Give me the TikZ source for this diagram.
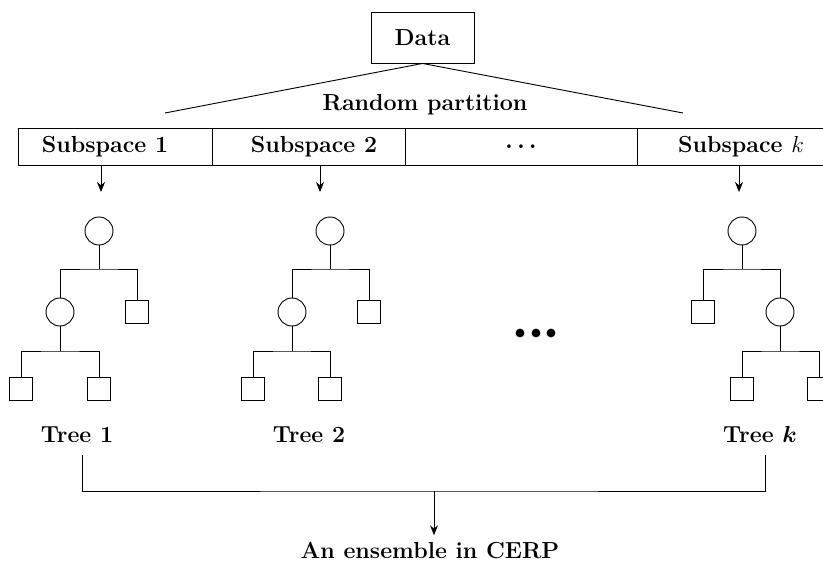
\RequirePackage{fix-cm}
\documentclass[tikz,border=0pt]{standalone}
\usepackage{tikz}
\usetikzlibrary{arrows.meta}

\begin{document}
\begin{tikzpicture}
[x=0.25mm,y=-0.25mm
,font=\fontsize{16.5}{19}\selectfont\bfseries
,line width=0.65pt
,lbl/.style={inner sep=0pt,anchor=base}
,cell/.style={draw,minimum height=9.25mm,inner sep=0pt}
,split/.style={circle,draw,minimum size=7mm,inner sep=0pt}
,leaf/.style={draw,minimum size=5.6mm,inner sep=0pt}
,blob/.style={circle,fill,minimum size=2.2mm,inner sep=0pt}
,be/.style={draw=black,arrows={-Stealth[length=2.5mm,width=2mm]}}]
\useasboundingbox (0,0) rectangle (823,568);
\clip (0,0) rectangle (823,568);
% data and the random split
\node[draw,minimum width=25.75mm,minimum height=12.75mm] (data) at (422.5,37.5) {Data};
\coordinate (pl) at (165,113);
\coordinate (pr) at (683,113);
\draw (data.south) -- (pl);
\draw (data.south) -- (pr);
\node[lbl] (part) at (425,111) {Random partition};
% row of subspaces
\node[cell,minimum width=48.5mm] (c1) at (115,146.5) {};
\node[cell,minimum width=48.25mm] (c2) at (308.5,146.5) {};
\node[cell,minimum width=58mm] (c3) at (521,146.5) {};
\node[cell,minimum width=52mm] (c4) at (741,146.5) {};
\node[lbl] (s1) at (105,153) {Subspace 1};
\node[lbl] (s2) at (314,153) {Subspace 2};
\node[lbl] (s3) at (521,153) {{\boldmath$\cdots$}};
\node[lbl] (sk) at (741,153) {Subspace $k$};
\coordinate (t1) at (101,192);
\coordinate (t2) at (320,192);
\coordinate (tk) at (739,192);
\draw[be] (c1.south -| t1) -- (t1);
\draw[be] (c2.south -| t2) -- (t2);
\draw[be] (c4.south -| tk) -- (tk);
% tree 1
\node[split] (r1) at (99,231) {};
\node[split] (i1) at (60,312) {};
\node[leaf] (l1) at (137,312) {};
\node[leaf] (m1) at (21,389) {};
\node[leaf] (n1) at (99,389) {};
\coordinate (j1) at (99,269);
\coordinate (k1) at (60,351);
\draw (r1) -- (j1);
\draw (i1) |- (j1) -| (l1);
\draw (i1) -- (k1);
\draw (m1) |- (k1) -| (n1);
% tree 2
\node[split] (r2) at (330,231) {};
\node[split] (i2) at (292,312) {};
\node[leaf] (l2) at (369,312) {};
\node[leaf] (m2) at (253,389) {};
\node[leaf] (n2) at (330,389) {};
\coordinate (j2) at (330,269);
\coordinate (k2) at (292,351);
\draw (r2) -- (j2);
\draw (i2) |- (j2) -| (l2);
\draw (i2) -- (k2);
\draw (m2) |- (k2) -| (n2);
% the trees left out
\node[blob] (d1) at (520,333) {};
\node[blob] (d2) at (536,333) {};
\node[blob] (d3) at (551,333) {};
% tree k
\node[split] (rk) at (742,231) {};
\node[leaf] (lk) at (703,312) {};
\node[split] (ik) at (780,312) {};
\node[leaf] (mk) at (742,389) {};
\node[leaf] (nk) at (819,389) {};
\coordinate (jk) at (742,269);
\coordinate (kk) at (780,351);
\draw (rk) -- (jk);
\draw (lk) |- (jk) -| (ik);
\draw (ik) -- (kk);
\draw (mk) |- (kk) -| (nk);
\node[lbl] (tl1) at (77,442) {Tree 1};
\node[lbl] (tl2) at (309,442) {Tree 2};
\node[lbl] (tlk) at (760,442) {Tree {\boldmath$k$}};
% combining the trees
\coordinate (b1) at (82,455);
\coordinate (b2) at (765,455);
\coordinate (bm) at (434,491);
\draw (b1) |- (bm) -| (b2);
\node[lbl,inner sep=1.5mm] (ens) at (430,558) {An ensemble in CERP};
\draw[be] (bm) -- (ens.north -| bm);
\end{tikzpicture}
\end{document}
